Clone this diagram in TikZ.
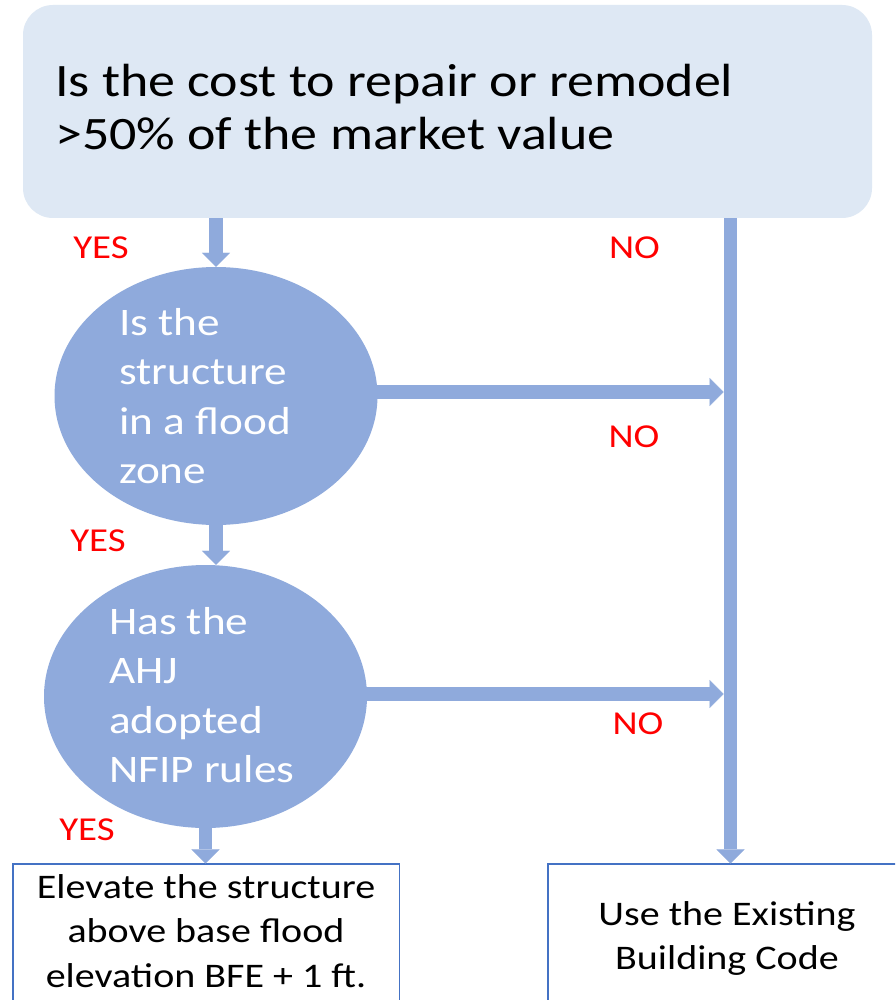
\documentclass[tikz,border=0pt]{standalone}
\usepackage{fontspec}
\setmainfont{Carlito}[FakeStretch=1.16]
\usetikzlibrary{arrows.meta,shapes.geometric}
\definecolor{boxfill}{HTML}{DEE8F4}
\definecolor{flow}{HTML}{8FAADC}
\definecolor{edgeblue}{HTML}{4472C4}
\definecolor{lblred}{HTML}{FF0000}
\begin{document}
\begin{tikzpicture}[x=1pt,y=-1pt,
  arr/.style={draw=flow,line width=13.5pt,-{Triangle[width=28pt,length=14pt,line width=0.1pt]}},
  topbox/.style={fill=boxfill,draw=none,rounded corners=30pt,minimum width=849pt,minimum height=213pt,inner sep=0pt},
  decision/.style={ellipse,fill=flow,draw=none,minimum width=323pt,inner sep=0pt},
  endbox/.style={rectangle,draw=edgeblue,line width=1.3pt,fill=white,minimum height=166pt,inner sep=0pt},
  bigtext/.style={anchor=base west,inner sep=0pt,font=\fontsize{46.5}{53}\selectfont},
  ovaltext/.style={anchor=base west,inner sep=0pt,text=white,font=\fontsize{39}{49.5}\selectfont},
  endtext/.style={anchor=base,inner sep=0pt,font=\fontsize{34.5}{44.5}\selectfont},
  lbl/.style={text=lblred,inner sep=0pt,font=\fontsize{33.5}{40}\selectfont},
]
\useasboundingbox (0,0) rectangle (895,1000);
\clip (0,0) rectangle (895,1000);
\fill[white] (0,0) rectangle (895,1000);

% nodes
\node[topbox] (q1) at (447.5,111.5) {};
\node[bigtext] (t1) at (55,97) {\parbox[t]{800pt}{Is the cost to repair or remodel\\>50\% of the market value}};

\node[decision,minimum height=258pt] (q2) at (216,396) {};
\node[ovaltext] (t2) at (119,335) {\parbox[t]{220pt}{\raggedright Is the\\structure\\in a flood\\zone}};

\node[decision,minimum height=263pt] (q3) at (205.5,696.5) {};
\node[ovaltext] (t3) at (109,634) {\parbox[t]{230pt}{\raggedright Has the\\AHJ\\adopted\\NFIP rules}};

\node[endbox,minimum width=386.3pt] (r1) at (206,947) {};
\node[endtext] (t4) at (206,898) {\parbox[t]{380pt}{\centering Elevate the structure\\above base flood\\elevation BFE + 1 ft.}};

\node[endbox,minimum width=362pt] (r2) at (729,947) {};
\node[endtext] (t5) at (727,925) {\parbox[t]{340pt}{\centering Use the Existing\\Building Code}};

\coordinate (vx) at (730.5,218);

% connectors
\draw[arr] (q1.south -| q2.north) -- (q2.north);
\draw[arr] (q2.south) -- (q2.south |- q3.north);
\draw[arr] (q3.south) -- (q3.south |- r1.north);
\draw[arr] (q1.south -| vx) -- (vx |- r2.north);
\draw[arr,shorten >=7pt] ([xshift=-6pt,yshift=4pt]q2.east) -- ([yshift=4pt]q2.east -| vx);
\draw[arr,shorten >=7pt] ([xshift=-6pt,yshift=2.5pt]q3.east) -- ([yshift=2.5pt]q3.east -| vx);

% labels
\node[lbl] (y1) at (101,248) {YES};
\node[lbl] (n1) at (634.5,248) {NO};
\node[lbl] (n2) at (634,437) {NO};
\node[lbl] (y2) at (98,541) {YES};
\node[lbl] (n3) at (638,724) {NO};
\node[lbl] (y3) at (87,830) {YES};
\end{tikzpicture}
\end{document}
